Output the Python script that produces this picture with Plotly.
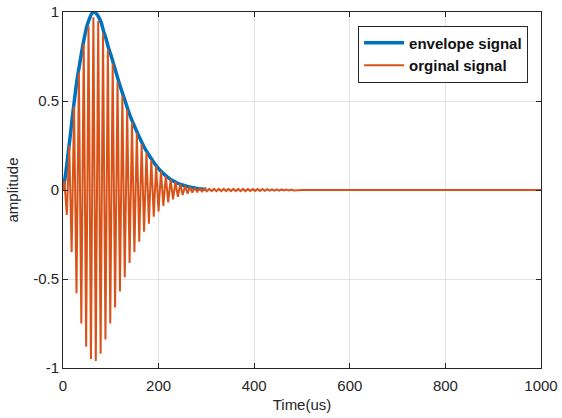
import numpy as np
import plotly.graph_objects as go

# Envelope signal (time in us, amplitude)
env_t = [0, 5, 10, 15, 20, 25, 30, 35, 40, 45, 50, 55, 60, 65, 70, 75, 80, 85, 90, 95,
         100, 110, 120, 130, 140, 150, 160, 170, 180, 190, 200, 210, 220, 230, 240,
         250, 260, 270, 280, 290, 300]
env_v = [0.0, 0.08, 0.19, 0.30, 0.42, 0.53, 0.63, 0.71, 0.79, 0.86, 0.92, 0.96, 0.99, 1.0,
         0.99, 0.97, 0.94, 0.89, 0.85, 0.80, 0.76, 0.67, 0.58, 0.50, 0.42, 0.355, 0.295,
         0.24, 0.195, 0.155, 0.12, 0.092, 0.07, 0.052, 0.038, 0.028, 0.02, 0.014, 0.009,
         0.006, 0.004]

# Original signal: successive extremes (half-cycle peaks)
half_period = 5.05   # us, carrier half period
first_peak = 2.95
sig_peaks = [0.05, -0.14, 0.25, -0.35, 0.47, -0.58, 0.66, -0.75, 0.82, -0.88,
             0.92, -0.95, 0.97, -0.96, 0.95, -0.92, 0.88, -0.84, 0.79, -0.75,
             0.71, -0.66, 0.61, -0.57, 0.53, -0.49, 0.45, -0.41, 0.38, -0.35,
             0.32, -0.29, 0.26, -0.235, 0.21, -0.19, 0.17, -0.15, 0.135, -0.12,
             0.105, -0.09, 0.08, -0.07, 0.06, -0.052, 0.045, -0.038, 0.033, -0.028,
             0.024, -0.02, 0.017, -0.014, 0.012, -0.01, 0.009, -0.008, 0.007, -0.007,
             0.006, -0.006, 0.006, -0.006, 0.006, -0.006, 0.006, -0.006, 0.006, -0.006,
             0.006, -0.006, 0.006, -0.006, 0.006, -0.006, 0.005, -0.005, 0.005, -0.005,
             0.005, -0.005, 0.005, -0.005, 0.004, -0.004, 0.004, -0.004, 0.004, -0.004,
             0.003, -0.003, 0.003, -0.003, 0.003, -0.003]
sig_end_t = [500, 1000]
sig_end_v = [0.0, 0.0]

x_ticks = [0, 200, 400, 600, 800, 1000]
y_ticks = [-1, -0.5, 0, 0.5, 1]
y_tick_text = ["-1", "-0.5", "0", "0.5", "1"]

sig_t = [0.0] + [first_peak + half_period * k for k in range(len(sig_peaks))] + sig_end_t
sig_v = [0.0] + sig_peaks + sig_end_v

FONT = "Liberation Sans, Arial, sans-serif"
AX = "#262626"

fig = go.Figure()
fig.add_trace(go.Scatter(x=env_t, y=env_v, mode="lines", name="envelope signal",
                         line=dict(color="#0072BD", width=3.5, shape="spline")))
fig.add_trace(go.Scatter(x=sig_t, y=sig_v, mode="lines", name="orginal signal",
                         line=dict(color="#D95319", width=2)))

axis_common = dict(showline=True, linecolor=AX, linewidth=1, mirror="ticks",
                   ticks="inside", ticklen=5, tickcolor=AX, showgrid=True,
                   gridcolor="#e3e3e3", gridwidth=1, zeroline=False,
                   tickfont=dict(family=FONT, size=15, color=AX))

fig.update_layout(
    width=562, height=418,
    margin=dict(l=63, r=21, t=12, b=50),
    paper_bgcolor="white", plot_bgcolor="white",
    showlegend=True,
    legend=dict(x=0.973, y=0.962, xanchor="right", yanchor="top",
                bgcolor="white", bordercolor=AX, borderwidth=1,
                font=dict(family=FONT, size=15, color="#111111", weight="bold"),
                tracegroupgap=0, itemwidth=40),
    xaxis=dict(range=[0, 1000], tickvals=x_ticks, ticklabelstandoff=4, **axis_common,
               title=dict(text="Time(us)", standoff=6,
                          font=dict(family=FONT, size=15, color=AX))),
    yaxis=dict(range=[-1, 1], tickvals=y_ticks, ticktext=y_tick_text, **axis_common,
               title=dict(text="amplitude", standoff=10,
                          font=dict(family=FONT, size=15, color=AX))),
)
fig.update_xaxes(automargin=False)
fig.update_yaxes(automargin=False)

fig.write_html("out.html")
